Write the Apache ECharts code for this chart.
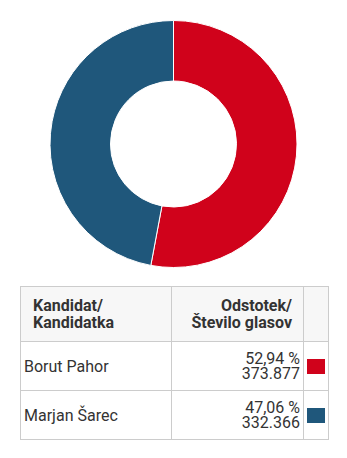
<!DOCTYPE html>
<html>
<head>
<meta charset="utf-8">
<script src="https://cdn.jsdelivr.net/npm/echarts@6/dist/echarts.min.js"></script>
<style>
  html, body { margin: 0; padding: 0; background: #fff; }
  body { width: 347px; height: 458px; position: relative; overflow: hidden; font-family: Roboto, "Noto Sans", sans-serif; color: #333; }
  #chart { position: absolute; left: 0; top: 0; width: 347px; height: 280px; }
  table { position: absolute; left: 20px; top: 286px; width: 309px; border-collapse: collapse; }
  td, th { border: 1px solid #ccc; padding: 0; }
  th { background: #f7f7f7; font-weight: bold; font-size: 16px; line-height: 17px; height: 54px; vertical-align: middle; }
  th.c1 { text-align: left; padding-left: 12px; width: 138px; }
  th.c2 { text-align: right; padding-right: 11px; width: 120px; }
  td { height: 48px; font-size: 16px; vertical-align: middle; }
  td.c1 { padding-left: 3px; }
  td.c2 { text-align: right; padding-right: 3px; line-height: 15px; }
  .sw { display: block; width: 18px; height: 15px; margin-left: 3px; }
</style>
</head>
<body>
<div id="chart"></div>
<table id="tbl">
  <thead>
    <tr><th class="c1" id="h1"></th><th class="c2" id="h2"></th><th></th></tr>
  </thead>
  <tbody id="rows"></tbody>
</table>
<script>
// Presidential runoff results
var candidates = ['Borut Pahor', 'Marjan Šarec'];
var percents = [52.94, 47.06];
var votes = [373877, 332366];
var colors = ['#d0021b', '#1f577b'];
var headers = [['Kandidat/', 'Kandidatka'], ['Odstotek/', 'Število glasov']];

function fmtPct(v) { return v.toFixed(2).replace('.', ',') + ' %'; }
function fmtVotes(v) { return String(v).replace(/\B(?=(\d{3})+(?!\d))/g, '.'); }

document.getElementById('h1').innerHTML = headers[0].join('<br>');
document.getElementById('h2').innerHTML = headers[1].join('<br>');
var rowsHtml = '';
for (var i = 0; i < candidates.length; i++) {
  rowsHtml += '<tr><td class="c1">' + candidates[i] + '</td><td class="c2">' +
    fmtPct(percents[i]) + '<br>' + fmtVotes(votes[i]) +
    '</td><td><span class="sw" style="background:' + colors[i] + '"></span></td></tr>';
}
document.getElementById('rows').innerHTML = rowsHtml;

var chart = echarts.init(document.getElementById('chart'), null, { renderer: 'canvas' });
chart.setOption({
  animation: false,
  series: [{
    type: 'pie',
    center: [173.5, 144],
    radius: [63, 123.5],
    startAngle: 90,
    clockwise: true,
    label: { show: false },
    labelLine: { show: false },
    emphasis: { disabled: true },
    itemStyle: { borderColor: '#fff', borderWidth: 1 },
    data: candidates.map(function (n, i) {
      return { name: n, value: votes[i], itemStyle: { color: colors[i] } };
    })
  }]
});
</script>
</body>
</html>
